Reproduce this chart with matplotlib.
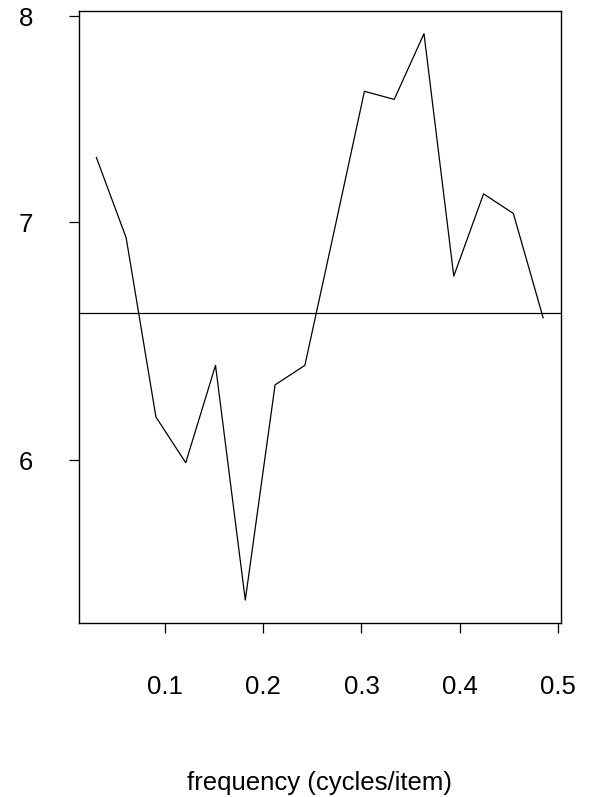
import numpy as np
import matplotlib
matplotlib.use("Agg")
from matplotlib import pyplot as plt
from matplotlib.ticker import FixedLocator, NullLocator

# spectrum estimate (log scale y)
n_items = 33
harmonics = np.arange(1, 17)
spectrum = [7.30, 6.93, 6.17, 5.99, 6.38, 5.48, 6.30, 6.38,
            6.97, 7.62, 7.58, 7.91, 6.76, 7.13, 7.04, 6.58]
mean_level = 6.60
x_ticks = [0.1, 0.2, 0.3, 0.4, 0.5]
y_ticks = [6, 7, 8]

freq = harmonics / n_items

plt.rcParams["font.family"] = ["Liberation Sans", "DejaVu Sans"]

W, H = 598, 797
fig = plt.figure(figsize=(W / 100, H / 100), dpi=100)
ax = fig.add_axes([78.5 / W, 1 - 622.7 / H, (561 - 78.5) / W, (622.7 - 11) / H])

ax.plot(freq, spectrum, color="black", lw=0.9)
ax.axhline(mean_level, color="black", lw=0.9)

ax.set_yscale("log")
# R style 4% padding
xr = freq.max() - freq.min()
ax.set_xlim(freq.min() - 0.04 * xr, freq.max() + 0.04 * xr)
lo, hi = np.log(min(spectrum)), np.log(max(spectrum))
ax.set_ylim(np.exp(lo - 0.04 * (hi - lo)), np.exp(hi + 0.04 * (hi - lo)))

ax.yaxis.set_major_locator(FixedLocator(y_ticks))
ax.yaxis.set_minor_locator(NullLocator())
ax.set_yticklabels([str(t) for t in y_ticks])
ax.set_xticks(x_ticks)
ax.set_xticklabels([str(t) for t in x_ticks])

ax.tick_params(axis="both", direction="out", length=7.5, width=0.9,
               labelsize=18.5, color="black")
ax.tick_params(axis="x", pad=30)
ax.tick_params(axis="y", pad=25)
for s in ax.spines.values():
    s.set_linewidth(1.0)

ax.set_xlabel("frequency (cycles/item)", fontsize=18.5, labelpad=52)

fig.savefig("out.png", dpi=100)
